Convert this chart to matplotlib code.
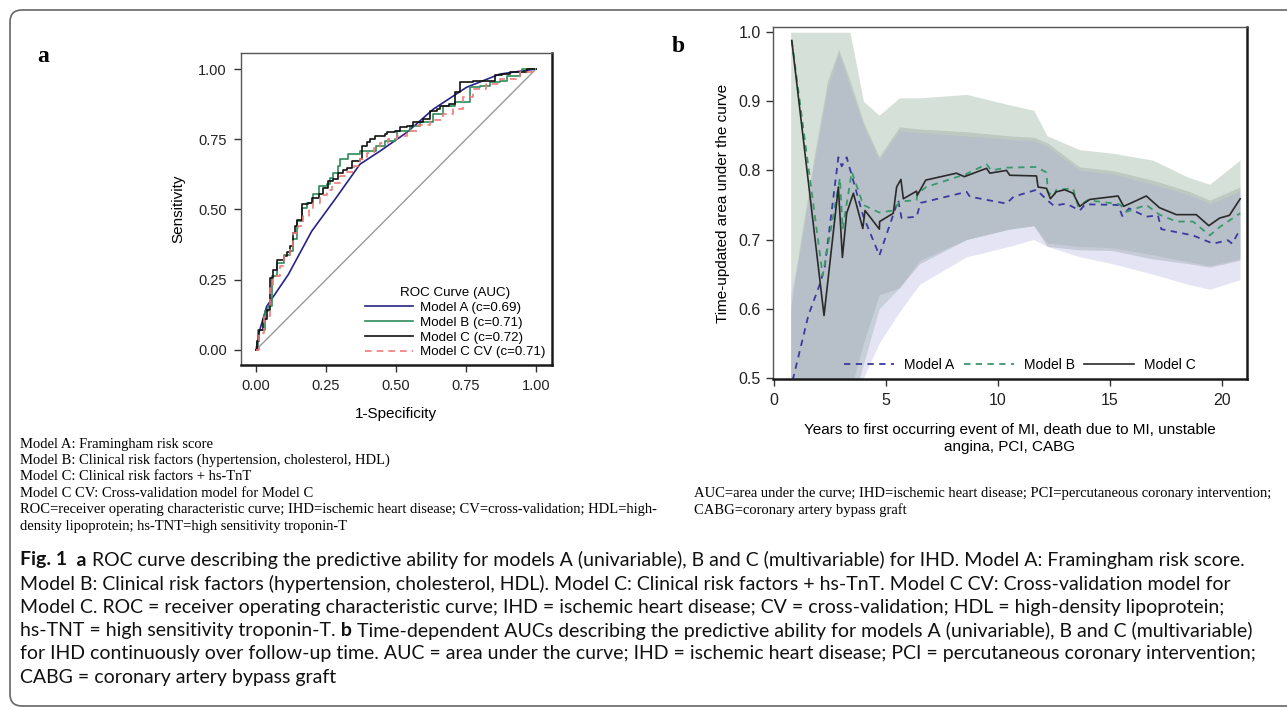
import matplotlib
matplotlib.use("Agg")
import matplotlib.pyplot as plt
from matplotlib.patches import FancyBboxPatch

W, H = 1287, 710

# ---- panel a: ROC curves (1-specificity, sensitivity) ----
roc_a_fpr = [0, 0.01, 0.038, 0.115, 0.199, 0.282, 0.371, 0.443, 0.538, 0.633, 0.752, 0.871, 1.0]
roc_a_tpr = [0, 0.06, 0.155, 0.268, 0.423, 0.536, 0.661, 0.708, 0.774, 0.857, 0.935, 0.982, 1.0]

roc_b_fpr = [0, 0.008, 0.032, 0.044, 0.056, 0.074, 0.098, 0.121, 0.133, 0.145, 0.163, 0.181, 0.205,
             0.223, 0.252, 0.264, 0.276, 0.294, 0.3, 0.33, 0.371, 0.43, 0.461, 0.497, 0.503, 0.55,
             0.586, 0.633, 0.667, 0.711, 0.764, 0.8, 0.836, 0.871, 0.895, 0.943, 0.95, 1.0]
roc_b_tpr = [0, 0.071, 0.137, 0.155, 0.262, 0.31, 0.339, 0.351, 0.393, 0.458, 0.506, 0.524, 0.554,
             0.583, 0.59, 0.613, 0.631, 0.655, 0.68, 0.696, 0.708, 0.726, 0.744, 0.75, 0.78, 0.798,
             0.81, 0.839, 0.869, 0.881, 0.935, 0.94, 0.952, 0.958, 0.976, 0.988, 1.0, 1.0]

roc_c_fpr = [0, 0.004, 0.011, 0.025, 0.038, 0.048, 0.062, 0.074, 0.098, 0.11, 0.121, 0.133, 0.14,
             0.145, 0.163, 0.185, 0.199, 0.223, 0.24, 0.258, 0.276, 0.294, 0.31, 0.324, 0.342, 0.371,
             0.378, 0.396, 0.407, 0.425, 0.461, 0.467, 0.497, 0.514, 0.538, 0.562, 0.586, 0.598,
             0.621, 0.645, 0.657, 0.69, 0.711, 0.729, 0.776, 0.854, 0.88, 0.907, 0.967, 1.0]
roc_c_tpr = [0, 0.03, 0.071, 0.11, 0.143, 0.256, 0.286, 0.321, 0.333, 0.35, 0.369, 0.417, 0.44,
             0.464, 0.518, 0.522, 0.542, 0.556, 0.575, 0.601, 0.61, 0.631, 0.64, 0.649, 0.673, 0.679,
             0.726, 0.74, 0.75, 0.762, 0.768, 0.774, 0.78, 0.792, 0.798, 0.81, 0.812, 0.821,
             0.851, 0.857, 0.869, 0.875, 0.917, 0.952, 0.958, 0.979, 0.982, 0.988, 1.0, 1.0]

roc_cv_fpr = [0, 0.01, 0.03, 0.05, 0.062, 0.086, 0.1, 0.12, 0.133, 0.15, 0.169, 0.19, 0.205, 0.23,
              0.252, 0.27, 0.3, 0.325, 0.348, 0.37, 0.395, 0.42, 0.443, 0.47, 0.502, 0.54, 0.58,
              0.62, 0.669, 0.705, 0.74, 0.776, 0.82, 0.871, 0.943, 0.985, 1.0]
roc_cv_tpr = [0, 0.06, 0.12, 0.22, 0.262, 0.3, 0.333, 0.37, 0.417, 0.44, 0.476, 0.5, 0.524, 0.55,
              0.57, 0.595, 0.619, 0.635, 0.655, 0.68, 0.702, 0.72, 0.738, 0.75, 0.762, 0.78, 0.8,
              0.82, 0.839, 0.857, 0.9, 0.929, 0.945, 0.964, 0.988, 1.0, 1.0]

roc_labels = ["Model A (c=0.69)", "Model B (c=0.71)", "Model C (c=0.72)", "Model C CV (c=0.71)"]

# ---- panel b: time-dependent AUC ----
time_a = [0.72, 1.54, 2.06, 2.27, 2.88, 3.03, 3.25, 3.99, 4.71, 5.55, 5.70, 6.37, 6.55, 8.60, 8.75,
          10.38, 10.70, 11.72, 12.20, 12.49, 13.05, 13.65, 13.90, 15.36, 15.55, 15.85, 16.62, 17.14,
          17.29, 18.70, 19.60, 20.26, 20.45, 20.81]
auc_a = [0.48, 0.590, 0.636, 0.660, 0.819, 0.806, 0.819, 0.734, 0.677, 0.757, 0.731, 0.733, 0.753,
         0.769, 0.762, 0.752, 0.762, 0.772, 0.757, 0.749, 0.752, 0.742, 0.751, 0.750, 0.734, 0.745,
         0.733, 0.735, 0.715, 0.706, 0.694, 0.699, 0.694, 0.715]

time_b = [0.80, 2.18, 2.95, 3.07, 3.48, 3.99, 4.71, 5.33, 5.63, 6.37, 6.40, 6.80, 8.60, 9.49, 9.70,
          10.38, 11.72, 12.17, 12.22, 12.49, 12.6, 13.35, 13.58, 14.0, 15.43, 15.73, 16.62, 17.21,
          17.96, 18.70, 19.45, 19.89, 20.81]
auc_b = [0.988, 0.648, 0.789, 0.715, 0.798, 0.750, 0.739, 0.742, 0.755, 0.757, 0.766, 0.776, 0.795,
         0.809, 0.800, 0.804, 0.805, 0.797, 0.769, 0.762, 0.772, 0.774, 0.748, 0.757, 0.751, 0.740,
         0.750, 0.736, 0.726, 0.726, 0.706, 0.718, 0.738]

time_c = [0.80, 2.24, 2.88, 3.06, 3.25, 3.55, 3.97, 4.07, 4.71, 4.72, 5.33, 5.48, 5.67, 5.78, 6.37,
          6.40, 6.78, 8.15, 8.50, 9.49, 9.64, 10.38, 10.53, 11.72, 11.79, 12.17, 12.34, 12.6, 12.98,
          13.35, 13.65, 14.1, 15.36, 15.61, 16.02, 16.62, 17.21, 17.96, 18.85, 19.41, 19.89, 20.33, 20.81]
auc_c = [0.988, 0.590, 0.776, 0.674, 0.738, 0.767, 0.716, 0.742, 0.715, 0.726, 0.738, 0.776, 0.787,
         0.759, 0.770, 0.764, 0.786, 0.796, 0.791, 0.803, 0.796, 0.800, 0.793, 0.792, 0.776, 0.774,
         0.759, 0.769, 0.772, 0.767, 0.748, 0.758, 0.763, 0.748, 0.754, 0.763, 0.746, 0.736, 0.736,
         0.720, 0.731, 0.735, 0.759]

# confidence bands
band_t = [0.75, 1.2, 1.8, 2.4, 2.9, 3.4, 4.0, 4.7, 5.6, 6.5, 8.6, 10.5, 11.6, 12.2, 13.65, 15.1,
          16.9, 18.5, 19.45, 20.8]
band_b_hi = [1.0, 1.0, 1.0, 1.0, 1.0, 1.0, 0.90, 0.88, 0.905, 0.905, 0.91, 0.895, 0.887, 0.85, 0.83,
             0.825, 0.815, 0.79, 0.78, 0.815]
band_b_lo = [0.45, 0.45, 0.45, 0.45, 0.45, 0.45, 0.52, 0.60, 0.63, 0.67, 0.70, 0.715, 0.72, 0.695,
             0.69, 0.688, 0.678, 0.668, 0.662, 0.672]
band_c_hi = [0.60, 0.70, 0.82, 0.93, 0.975, 0.93, 0.87, 0.82, 0.863, 0.86, 0.856, 0.85, 0.848, 0.84,
             0.805, 0.80, 0.786, 0.77, 0.757, 0.776]
band_c_lo = [0.45, 0.45, 0.45, 0.45, 0.45, 0.48, 0.55, 0.62, 0.63, 0.665, 0.70, 0.715, 0.72, 0.69,
             0.685, 0.684, 0.672, 0.665, 0.66, 0.67]
band_a_hi = [0.62, 0.69, 0.81, 0.92, 0.97, 0.92, 0.865, 0.815, 0.858, 0.855, 0.85, 0.845, 0.843,
             0.835, 0.80, 0.795, 0.78, 0.765, 0.752, 0.77]
band_a_lo = [0.45, 0.45, 0.45, 0.45, 0.45, 0.45, 0.50, 0.55, 0.595, 0.635, 0.675, 0.69, 0.70, 0.69,
             0.675, 0.665, 0.65, 0.635, 0.628, 0.642]

notes_a = ["Model A: Framingham risk score",
           "Model B: Clinical risk factors (hypertension, cholesterol, HDL)",
           "Model C: Clinical risk factors + hs-TnT",
           "Model C CV: Cross-validation model for Model C",
           "ROC=receiver operating characteristic curve; IHD=ischemic heart disease; CV=cross-validation; HDL=high-",
           "density lipoprotein; hs-TNT=high sensitivity troponin-T"]
notes_b = ["AUC=area under the curve; IHD=ischemic heart disease; PCI=percutaneous coronary intervention;",
           "CABG=coronary artery bypass graft"]

caption = [
    [("Fig. 1", "bold"), ("  a", "bold"),
     (" ROC curve describing the predictive ability for models A (univariable), B and C (multivariable) for IHD. Model A: Framingham risk score.", "normal")],
    [("Model B: Clinical risk factors (hypertension, cholesterol, HDL). Model C: Clinical risk factors + hs-TnT. Model C CV: Cross-validation model for", "normal")],
    [("Model C. ROC = receiver operating characteristic curve; IHD = ischemic heart disease; CV = cross-validation; HDL = high-density lipoprotein;", "normal")],
    [("hs-TNT = high sensitivity troponin-T.", "normal"), (" b", "bold"),
     (" Time-dependent AUCs describing the predictive ability for models A (univariable), B and C (multivariable)", "normal")],
    [("for IHD continuously over follow-up time. AUC = area under the curve; IHD = ischemic heart disease; PCI = percutaneous coronary intervention;", "normal")],
    [("CABG = coronary artery bypass graft", "normal")],
]

plt.rcParams['font.family'] = ['Liberation Sans', 'DejaVu Sans']

fig = plt.figure(figsize=(W / 100, H / 100), dpi=100)
fig.patch.set_facecolor('white')


def px(x, y):
    return x / W, 1 - y / H


def style_spines(ax, pad):
    for s in ['left', 'top']:
        ax.spines[s].set_color('#555555')
        ax.spines[s].set_linewidth(1.0)
    for s in ['right', 'bottom']:
        ax.spines[s].set_color('#1a1a1a')
        ax.spines[s].set_linewidth(1.8)
    ax.tick_params(direction='out', length=5, width=1, color='#333333', labelcolor='#222222', pad=pad)


# outer rounded frame
frame = FancyBboxPatch((10, 4), 1320, 696, boxstyle='round,pad=0,rounding_size=12',
                       transform=None, fill=False, ec='#666666', lw=1.2)
fig.add_artist(frame)

# ---- panel a ----
axa = fig.add_axes([240.7 / W, 1 - 365 / H, 311 / W, 312 / H])
axa.plot([0, 1], [0, 1], color='#9a9a9a', lw=1.0)
la, = axa.plot(roc_a_fpr, roc_a_tpr, color='#24248a', lw=1.2)
lb, = axa.plot(roc_b_fpr, roc_b_tpr, color='#2e8b57', lw=1.2, drawstyle='steps-post')
lc, = axa.plot(roc_c_fpr, roc_c_tpr, color='#111111', lw=1.2, drawstyle='steps-post')
lcv, = axa.plot(roc_cv_fpr, roc_cv_tpr, color='#f07a7a', lw=1.2, ls=(0, (4, 3)), drawstyle='steps-post')
axa.set_xlim(-0.055, 1.056)
axa.set_ylim(-0.054, 1.057)
axa.set_xticks([0, 0.25, 0.5, 0.75, 1.0])
axa.set_yticks([0, 0.25, 0.5, 0.75, 1.0])
axa.set_xticklabels(["0.00", "0.25", "0.50", "0.75", "1.00"], fontsize=10.5)
axa.set_yticklabels(["0.00", "0.25", "0.50", "0.75", "1.00"], fontsize=10.5)
style_spines(axa, 5)
axa.set_xlabel("1-Specificity", fontsize=11, labelpad=10)
axa.set_ylabel("Sensitivity", fontsize=11, labelpad=9)
axa.legend([la, lb, lc, lcv], roc_labels, title="ROC Curve (AUC)", loc='lower right',
           frameon=False, fontsize=9.6, title_fontsize=9.6, handlelength=3.6,
           labelspacing=0.18, borderaxespad=0.1, handletextpad=0.5,
           bbox_to_anchor=(1.0, 0.0))

# ---- panel b ----
axb = fig.add_axes([772.7 / W, 1 - 379.3 / H, 474 / W, 352.6 / H])
axb.fill_between(band_t, band_b_lo, band_b_hi, color='#b4c8b8', alpha=0.55, lw=0)
axb.fill_between(band_t, band_c_lo, band_c_hi, color='#a2b0a6', alpha=0.45, lw=0)
axb.fill_between(band_t, band_a_lo, band_a_hi, color='#a8a8dc', alpha=0.3, lw=0)
pa, = axb.plot(time_a, auc_a, color='#3a3aa0', lw=1.3, ls=(0, (3.5, 3)))
pb, = axb.plot(time_b, auc_b, color='#3a9a6a', lw=1.3, ls=(0, (3.5, 3)))
pc, = axb.plot(time_c, auc_c, color='#2a2a2a', lw=1.2)
axb.set_xlim(-0.05, 21.1)
axb.set_ylim(0.4977, 1.008)
axb.set_xticks([0, 5, 10, 15, 20])
axb.set_yticks([0.5, 0.6, 0.7, 0.8, 0.9, 1.0])
axb.set_yticklabels(["0.5", "0.6", "0.7", "0.8", "0.9", "1.0"], fontsize=11.5)
style_spines(axb, 3.5)
axb.tick_params(axis='x', labelsize=11.5, pad=5)
axb.set_xlabel("Years to first occurring event of MI, death due to MI, unstable\nangina, PCI, CABG",
               fontsize=11, labelpad=11)
axb.set_ylabel("Time-updated area under the curve", fontsize=11, labelpad=6)
axb.legend([pa, pb, pc], ["Model A", "Model B", "Model C"], loc='center', ncol=3,
           frameon=False, fontsize=10, handlelength=3.6, columnspacing=0.7, handletextpad=0.7,
           borderaxespad=0, borderpad=0, bbox_to_anchor=(0.522, 0.041))

# panel letters
fig.text(*px(43, 57), "a", fontsize=17, fontweight='bold', family=['Liberation Serif'],
         ha='center', va='center')
fig.text(*px(678, 47), "b", fontsize=17, fontweight='bold', family=['Liberation Serif'],
         ha='center', va='center')

# footnotes under the panels
for i, line in enumerate(notes_a):
    fig.text(*px(20, 444 + i * 16.5), line, fontsize=10.5, family=['Liberation Serif'], va='center')
for i, line in enumerate(notes_b):
    fig.text(*px(694, 493.5 + i * 16.5), line, fontsize=10.5, family=['Liberation Serif'], va='center')

# caption, drawn piece by piece so bold parts sit inline
renderer = fig.canvas.get_renderer()
for i, parts in enumerate(caption):
    x = 20
    y = 560 + i * 23.5
    for txt, weight in parts:
        t = fig.text(*px(x, y), txt, fontsize=14, fontweight=weight,
                     family=['Lato', 'DejaVu Sans'], va='center', color='#111111')
        x += t.get_window_extent(renderer).width

fig.savefig("out.png", dpi=100)
